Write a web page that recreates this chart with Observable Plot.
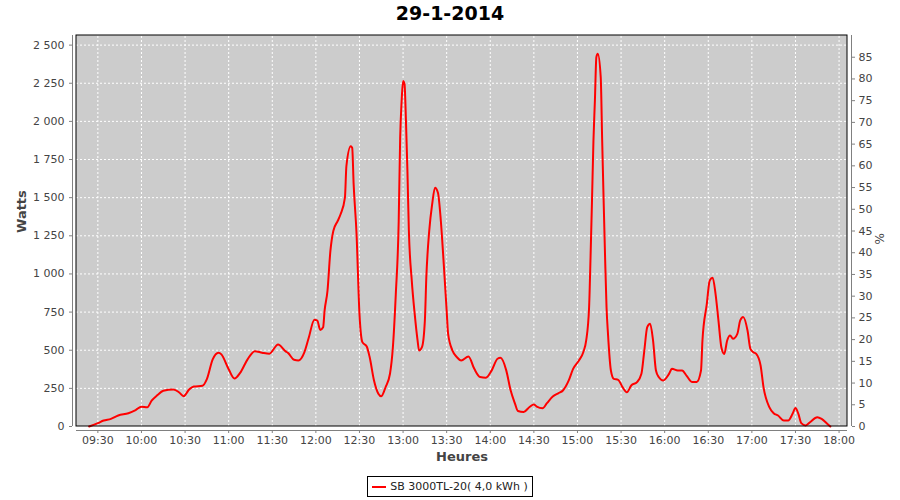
<!DOCTYPE html>
<html>
<head>
<meta charset="utf-8">
<script src="https://cdn.jsdelivr.net/npm/d3@7"></script>
<script src="https://cdn.jsdelivr.net/npm/@observablehq/plot@0.6"></script>
<style>
  html, body { margin: 0; padding: 0; background: #fff; }
  #wrap { width: 900px; height: 500px; position: relative; overflow: hidden; font-family: "DejaVu Sans", sans-serif; }
  #title { height: 30px; line-height: 26px; text-align: center; font-weight: bold; font-size: 19px; color: #000; }
  #chart svg { display: block; }
  #legend { height: 30px; display: flex; justify-content: center; align-items: flex-start; }
  #legend .box { margin-top: 6px; height: 19px; border: 1px solid #000; display: inline-flex; align-items: center; padding: 0 4px; font-size: 11px; color: #222; }
  #legend .swatch { width: 14px; height: 2px; background: #ff0000; margin-right: 4px; }
</style>
</head>
<body>
<div id="wrap">
  <div id="title">29-1-2014</div>
  <div id="chart"></div>
  <div id="legend"><div class="box"><span class="swatch"></span><span>SB 3000TL-20( 4,0 kWh )</span></div></div>
</div>
<script>
// ---- data ----
const times = [
  "09:24","09:30","09:34","09:39","09:44","09:51","09:56","10:00","10:04","10:07",
  "10:11","10:15","10:22","10:26","10:29","10:33","10:36","10:42","10:45","10:49",
  "10:53","10:55","11:00","11:04","11:08","11:13","11:18","11:23","11:28","11:34",
  "11:39","11:41","11:45","11:48","11:52","11:55","11:59","12:01","12:03","12:05",
  "12:06","12:08","12:10","12:12","12:15","12:17","12:20","12:21","12:24","12:25",
  "12:26","12:28","12:30","12:32","12:35","12:37","12:40","12:43","12:45","12:48",
  "12:51","12:53","12:55","12:57","12:58","12:59","13:00","13:01","13:02","13:03",
  "13:04","13:06","13:08","13:10","13:11","13:13","13:15","13:16","13:18","13:20",
  "13:22","13:24","13:26","13:28","13:30","13:31","13:34","13:37","13:40","13:45",
  "13:49","13:53","13:57","14:01","14:05","14:07","14:11","14:14","14:17","14:19",
  "14:23","14:27","14:30","14:32","14:36","14:39","14:43","14:47","14:50","14:54",
  "14:57","15:01","15:04","15:06","15:08","15:09","15:10","15:11","15:12","15:13",
  "15:14","15:16","15:17","15:18","15:19","15:20","15:21","15:23","15:25","15:28",
  "15:31","15:34","15:37","15:41","15:44","15:46","15:48","15:50","15:52","15:54",
  "15:56","15:59","16:03","16:05","16:09","16:12","16:15","16:19","16:22","16:25",
  "16:26","16:29","16:31","16:33","16:35","16:37","16:39","16:41","16:43","16:45",
  "16:47","16:50","16:52","16:54","16:57","16:59","17:01","17:03","17:06","17:08",
  "17:12","17:15","17:18","17:22","17:25","17:28","17:30","17:32","17:34","17:37",
  "17:40","17:45","17:48","17:52","17:54"
];
const watts = [
  0,22,39,50,72,87,108,130,126,169,
  206,234,243,223,199,245,262,267,310,440,
  484,473,375,314,353,440,494,484,477,538,
  494,481,437,433,485,578,699,694,633,650,
  759,890,1151,1282,1347,1391,1500,1706,1837,1826,
  1587,1260,738,553,524,455,302,215,198,259,
  346,520,868,1347,1890,2130,2264,2245,2000,1674,
  1282,955,738,563,498,520,694,977,1282,1456,
  1565,1532,1347,1064,759,607,498,455,433,459,
  378,324,320,368,444,450,368,237,150,102,
  95,128,144,131,120,153,197,219,236,302,
  378,433,487,564,782,1110,1481,1875,2137,2421,
  2443,2290,1875,1481,1110,782,607,367,312,306,
  258,225,269,291,345,498,651,673,564,367,
  323,302,345,378,367,367,334,291,291,367,
  564,804,957,975,870,695,520,476,564,597,
  575,607,695,717,629,509,487,476,400,258,
  127,87,72,39,39,83,122,83,22,7,
  28,61,50,17,0
];
const xTickLabels = ["09:30","10:00","10:30","11:00","11:30","12:00","12:30","13:00","13:30",
  "14:00","14:30","15:00","15:30","16:00","16:30","17:00","17:30","18:00"];
const wattTicks = [0,250,500,750,1000,1250,1500,1750,2000,2250,2500];
const pctTicks = [0,5,10,15,20,25,30,35,40,45,50,55,60,65,70,75,80,85];

// ---- scales ----
const toMin = s => { const [h, m] = s.split(":").map(Number); return h * 60 + m; };
const fmtT = m => String(Math.floor(m / 60)).padStart(2, "0") + ":" + String(m % 60).padStart(2, "0");
const fmtW = d3.formatLocale({decimal: ",", thousands: " ", grouping: [3], currency: ["", ""]}).format(",d");
const data = times.map((t, i) => ({t: toMin(t), w: watts[i]}));
const xTicks = xTickLabels.map(toMin);
const xMin = 555.3, xMax = 1085.8, yMax = 2563, pctMax = 90;
const pctPos = pctTicks.map(p => p * yMax / pctMax);
const area = [{x1: xMin, x2: xMax, y1: 0, y2: yMax}];

const chart = Plot.plot({
  width: 900, height: 440,
  marginTop: 5, marginBottom: 40, marginLeft: 72, marginRight: 49,
  insetLeft: 4, insetRight: 4, insetBottom: 4, insetTop: 0,
  style: {fontFamily: "DejaVu Sans", fontSize: "11px", color: "#444", background: "white"},
  x: {type: "linear", domain: [xMin, xMax]},
  y: {type: "linear", domain: [0, yMax]},
  marks: [
    Plot.rect(area, {x1: "x1", x2: "x2", y1: "y1", y2: "y2", fill: "#cccccc"}),
    Plot.ruleX(xTicks, {y1: 0, y2: yMax, stroke: "white", strokeDasharray: "2,2"}),
    Plot.ruleY(wattTicks, {x1: xMin, x2: xMax, stroke: "white", strokeDasharray: "2,2"}),
    Plot.line(data, {x: "t", y: "w", stroke: "#ff0000", strokeWidth: 2, curve: "monotone-x"}),
    Plot.rect(area, {x1: "x1", x2: "x2", y1: "y1", y2: "y2", fill: "none", stroke: "#000"}),
    Plot.ruleY([0], {x1: xMin, x2: xMax, dy: 4, stroke: "#808080"}),
    Plot.ruleX([xMin], {y1: 0, y2: yMax, dx: -4, stroke: "#808080"}),
    Plot.ruleX([xMax], {y1: 0, y2: yMax, dx: 4, stroke: "#808080"}),
    Plot.axisX(xTicks, {anchor: "bottom", tickFormat: fmtT, tickSize: 3, tickPadding: 3, stroke: "#808080", fill: "#444", label: null}),
    Plot.axisY(wattTicks, {anchor: "left", tickFormat: fmtW, tickSize: 3, tickPadding: 5, stroke: "#808080", fill: "#444", label: null}),
    Plot.axisY(pctPos, {anchor: "right", tickFormat: v => String(Math.round(v * pctMax / yMax)), tickSize: 3, tickPadding: 4, stroke: "#808080", fill: "#444", label: null}),
    Plot.text(["Watts"], {frameAnchor: "left", dx: -51, rotate: -90, fontWeight: "bold", fontSize: 13, fill: "#444"}),
    Plot.text(["%"], {frameAnchor: "right", dx: 29, rotate: -90, fontSize: 12, fill: "#444"}),
    Plot.text(["Heures"], {frameAnchor: "bottom", dy: 30, fontWeight: "bold", fontSize: 13, fill: "#444"})
  ]
});
document.getElementById("chart").appendChild(chart);
</script>
</body>
</html>
